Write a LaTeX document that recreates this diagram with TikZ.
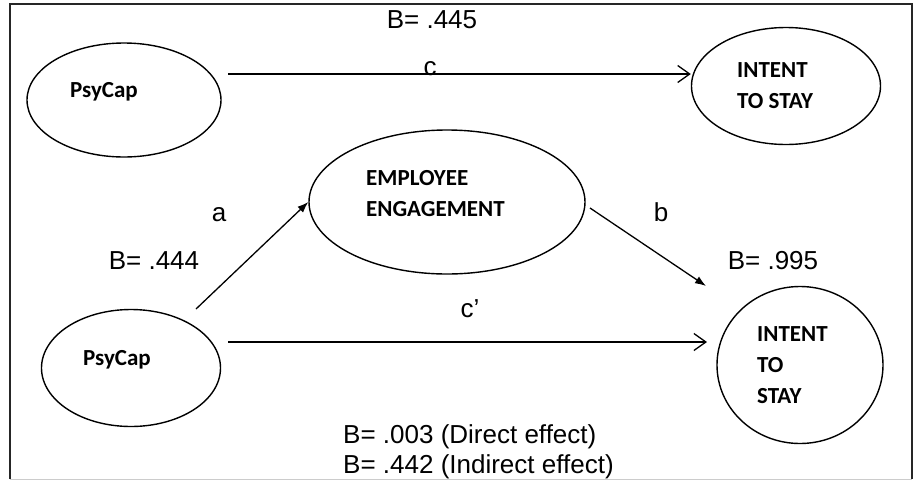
\documentclass[tikz,border=0pt]{standalone}
\usepackage{fontspec}
\setmainfont{Liberation Sans}
\newfontfamily\nodefont{Carlito}
\usetikzlibrary{arrows.meta,shapes.geometric}
\begin{document}
\begin{tikzpicture}[x=1pt,y=-1pt,
  oval/.style={draw, ellipse, line width=1.4pt, inner sep=0},
  intxt/.style={font=\nodefont\bfseries\fontsize{23}{31}\selectfont, align=left, anchor=north west, inner sep=0},
  lbl/.style={font=\fontsize{26}{30}\selectfont, inner sep=0, anchor=base},
  openarr/.style={line width=1.3pt, -{Straight Barb[length=12pt,width=17pt,line width=1.3pt]}},
  fillarr/.style={line width=1.3pt, -{Latex[length=11pt,width=8pt]}}
]
\useasboundingbox (0,0) rectangle (916,480);
% frame
\draw[line width=1.6pt, black!85] (10,479) -- (10,4) -- (912,4) -- (912,479);
\draw[line width=1pt, black!20] (10,479) -- (912,479);

% ellipses
\node[oval, minimum width=194pt, minimum height=114pt] (p1) at (124,100) {};
\node[oval, minimum width=189pt, minimum height=117pt] (it1) at (786,86) {};
\node[oval, minimum width=276pt, minimum height=144pt] (ee) at (447,202) {};
\node[oval, minimum width=179pt, minimum height=117pt] (p2) at (131,368) {};
\node[oval, minimum width=166pt, minimum height=157pt] (it2) at (800,365) {};

% ellipse texts
\node[intxt] (p1t) at (70,82) {PsyCap};
\node[intxt] (it1t) at (737,62) {INTENT\\TO STAY};
\node[intxt] (eet) at (366,170) {EMPLOYEE\\ENGAGEMENT};
\node[intxt] (p2t) at (83,350) {PsyCap};
\node[intxt] (it2t) at (757,326) {INTENT\\TO\\STAY};

% connectors
\coordinate (cs) at (228,74);
\draw[openarr] (cs) -- (cs -| it1.west);
\coordinate (as) at (196,309);
\draw[fillarr] (as) -- (ee.west);
\coordinate (bs) at (590,208);
\coordinate (be) at (706,286);
\draw[fillarr] (bs) -- (be);
\coordinate (cps) at (228,342);
\coordinate (cpe) at (707,342);
\draw[openarr] (cps) -- (cpe);

% labels
\node[lbl] (l445) at (432,28) {B= .445};
\node[lbl] (lc) at (430,75) {c};
\node[lbl] (la) at (219,221) {a};
\node[lbl] (l444) at (154,269) {B= .444};
\node[lbl] (lb) at (661,221) {b};
\node[lbl] (l995) at (773,269) {B= .995};
\node[lbl] (lcp) at (470,317) {c’};
\node[lbl, anchor=base west] (ld) at (343,443) {B= .003 (Direct effect)};
\node[lbl, anchor=base west] (li) at (343,473) {B= .442 (Indirect effect)};
\end{tikzpicture}
\end{document}
